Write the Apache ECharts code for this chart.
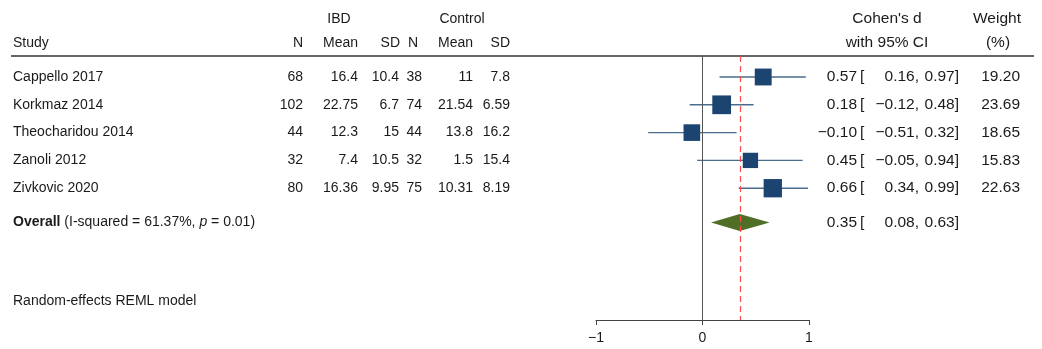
<!DOCTYPE html>
<html>
<head>
<meta charset="utf-8">
<title>Forest plot</title>
<script src="https://cdn.jsdelivr.net/npm/echarts@6/dist/echarts.min.js"></script>
<style>
  html, body { margin: 0; padding: 0; background: #fff; }
  #chart { width: 1042px; height: 349px; }
</style>
</head>
<body>
<div id="chart"></div>
<script>
// study table
var studies = ['Cappello 2017', 'Korkmaz 2014', 'Theocharidou 2014', 'Zanoli 2012', 'Zivkovic 2020']
var ibdN = ['68', '102', '44', '32', '80']
var ibdMean = ['16.4', '22.75', '12.3', '7.4', '16.36']
var ibdSD = ['10.4', '6.7', '15', '10.5', '9.95']
var ctlN = ['38', '74', '44', '32', '75']
var ctlMean = ['11', '21.54', '13.8', '1.5', '10.31']
var ctlSD = ['7.8', '6.59', '16.2', '15.4', '8.19']
// Cohen's d with 95% CI, weight (%)
var effect = [0.57, 0.18, -0.10, 0.45, 0.66]
var ciLow = [0.16, -0.12, -0.51, -0.05, 0.34]
var ciHigh = [0.97, 0.48, 0.32, 0.94, 0.99]
var weight = [19.20, 23.69, 18.65, 15.83, 22.63]
// overall: estimate, low, high
var overall = [0.35, 0.08, 0.63]
var overallLabel = 'I-squared = 61.37%'
var overallP = '0.01'
var xTicks = [-1, 0, 1]

var FONT = '"Liberation Sans", Arial, sans-serif'
var TXT = '#1a1a1a'
var FS = 14 // left table
var FR = 15.5 // right columns
var overallRow = 6.23

function fmt(v) {
  var s = Math.abs(v).toFixed(2)
  return v < 0 ? '\u2212' + s : s
}

function txt(x, y, s, align, size) {
  return {
    type: 'text',
    silent: true,
    style: { text: s, x: x, y: y, fill: TXT, font: (size || FS) + 'px ' + FONT, align: align || 'left', verticalAlign: 'middle' }
  }
}

function ciTexts(y, est, lo, hi) {
  return [
    txt(857, y, fmt(est), 'right', FR),
    txt(860, y, '[', 'left', FR),
    txt(919, y, fmt(lo) + ',', 'right', FR),
    txt(959, y, fmt(hi) + ']', 'right', FR)
  ]
}

var rowData = studies.map(function(s, i) { return [0, i + 1] })

var chart = echarts.init(document.getElementById('chart'))

chart.setOption({
  animation: false,
  backgroundColor: '#fff',
  grid: { left: 596, right: 233, top: 56, bottom: 29 },
  xAxis: {
    type: 'value',
    min: xTicks[0],
    max: xTicks[xTicks.length - 1],
    interval: 1,
    axisLine: { show: true, onZero: false, lineStyle: { color: '#444', width: 1 } },
    axisTick: { show: true, length: 5, lineStyle: { color: '#444' } },
    axisLabel: {
      color: TXT, fontSize: FS, fontFamily: FONT, margin: 11,
      formatter: function(v) { return v < 0 ? '\u2212' + Math.abs(v) : String(v) }
    },
    splitLine: { show: false }
  },
  yAxis: {
    type: 'value', inverse: true, min: 0.245, max: 9.74, show: false
  },
  graphic: [
    { type: 'line', shape: { x1: 11, y1: 56, x2: 1034, y2: 56 }, style: { stroke: '#333', lineWidth: 1.3 }, silent: true },
    txt(13, 43, 'Study'),
    txt(339, 19, 'IBD', 'center'),
    txt(462, 19, 'Control', 'center'),
    txt(303, 43, 'N', 'right'),
    txt(358, 43, 'Mean', 'right'),
    txt(400, 43, 'SD', 'right'),
    txt(418, 43, 'N', 'right'),
    txt(473, 43, 'Mean', 'right'),
    txt(510, 43, 'SD', 'right'),
    txt(887, 19, "Cohen's d", 'center', FR),
    txt(887, 43, 'with 95% CI', 'center', FR),
    txt(997, 19, 'Weight', 'center', FR),
    txt(998, 43, '(%)', 'center', FR),
    txt(13, 301, 'Random-effects REML model')
  ],
  series: [
    {
      // reference lines at 0 and at the overall estimate
      type: 'line',
      data: [],
      silent: true,
      markLine: {
        symbol: 'none',
        silent: true,
        label: { show: false },
        data: [
          { xAxis: 0, lineStyle: { color: '#555', width: 1, type: 'solid' } },
          { xAxis: overall[0], lineStyle: { color: '#ff4d4d', width: 1.2, type: [6, 4] } }
        ]
      }
    },
    {
      // CI lines and weighted squares
      type: 'custom',
      data: effect.map(function(e, i) { return [e, i + 1, ciLow[i], ciHigh[i], weight[i]] }),
      renderItem: function(params, api) {
        var c = api.coord([api.value(0), api.value(1)])
        var lo = api.coord([api.value(2), api.value(1)])
        var hi = api.coord([api.value(3), api.value(1)])
        var size = 3.85 * Math.sqrt(api.value(4))
        return {
          type: 'group',
          children: [
            { type: 'line', shape: { x1: lo[0], y1: lo[1], x2: hi[0], y2: hi[1] }, style: { stroke: '#4a6d8f', lineWidth: 1.4 } },
            { type: 'rect', shape: { x: c[0] - size / 2, y: c[1] - size / 2, width: size, height: size }, style: { fill: '#1b4470' } }
          ]
        }
      },
      z: 3
    },
    {
      // overall diamond
      type: 'custom',
      data: [[overall[0], overallRow, overall[1], overall[2]]],
      renderItem: function(params, api) {
        var c = api.coord([api.value(0), api.value(1)])
        var lo = api.coord([api.value(2), api.value(1)])
        var hi = api.coord([api.value(3), api.value(1)])
        var h = 8.5
        return {
          type: 'polygon',
          shape: { points: [[lo[0], c[1]], [c[0], c[1] - h], [hi[0], c[1]], [c[0], c[1] + h]] },
          style: { fill: '#4e6f25' }
        }
      },
      z: 3
    },
    {
      // table text per study row
      type: 'custom',
      clip: false,
      silent: true,
      data: rowData,
      renderItem: function(params, api) {
        var i = params.dataIndex
        var y = api.coord([0, api.value(1)])[1]
        return {
          type: 'group',
          children: [
            txt(13, y, studies[i]),
            txt(303, y, ibdN[i], 'right'),
            txt(358, y, ibdMean[i], 'right'),
            txt(399, y, ibdSD[i], 'right'),
            txt(422, y, ctlN[i], 'right'),
            txt(473, y, ctlMean[i], 'right'),
            txt(510, y, ctlSD[i], 'right'),
            txt(1020, y, weight[i].toFixed(2), 'right', FR)
          ].concat(ciTexts(y, effect[i], ciLow[i], ciHigh[i]))
        }
      }
    },
    {
      // overall row text
      type: 'custom',
      clip: false,
      silent: true,
      data: [[0, overallRow]],
      renderItem: function(params, api) {
        var y = api.coord([0, api.value(1)])[1]
        return {
          type: 'group',
          children: [
            {
              type: 'text', silent: true,
              style: {
                x: 13, y: y, verticalAlign: 'middle',
                text: '{b|Overall} (' + overallLabel + ', {i|p} = ' + overallP + ')',
                fill: TXT, font: FS + 'px ' + FONT,
                rich: {
                  b: { fontWeight: 'bold', fontSize: FS, fontFamily: FONT, fill: TXT },
                  i: { fontStyle: 'italic', fontSize: FS, fontFamily: FONT, fill: TXT }
                }
              }
            }
          ].concat(ciTexts(y, overall[0], overall[1], overall[2]))
        }
      }
    }
  ]
})
</script>
</body>
</html>
